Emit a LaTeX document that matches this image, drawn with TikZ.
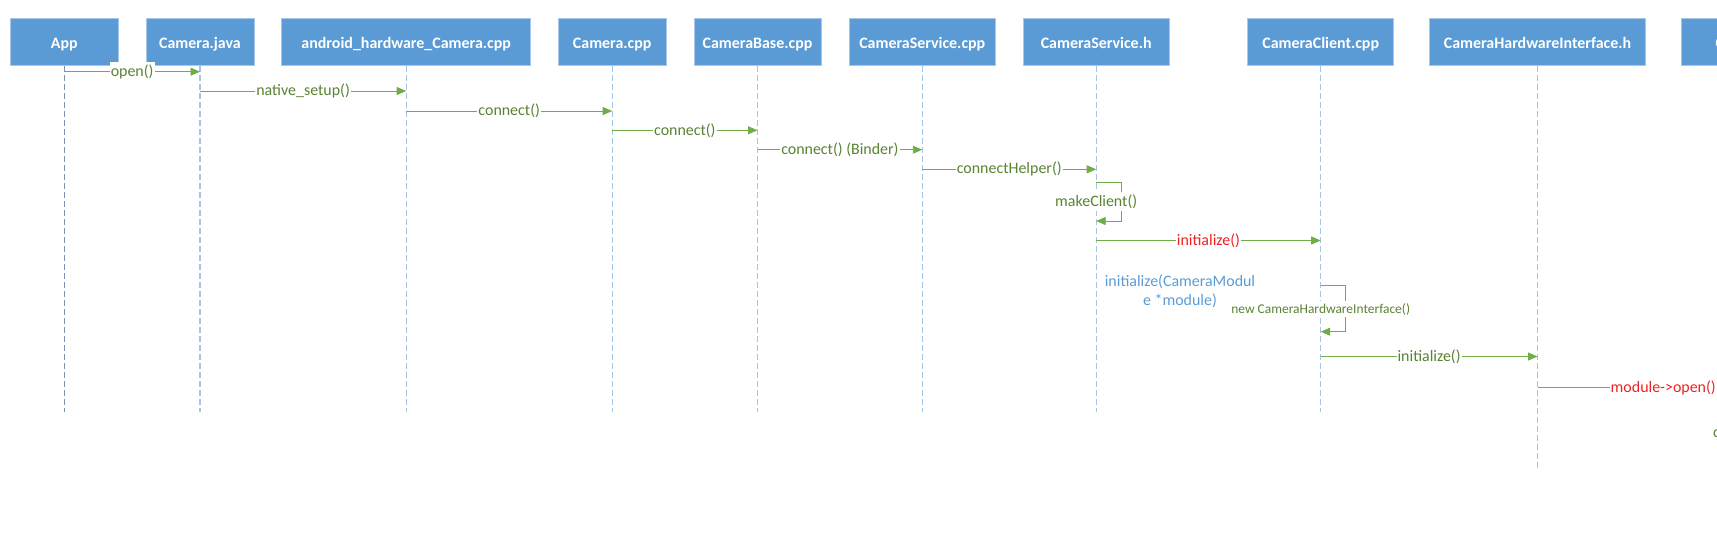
\documentclass[tikz,border=0pt]{standalone}
\usepackage{fontspec}
\setmainfont{Carlito}
\usetikzlibrary{arrows.meta}
\definecolor{boxblue}{HTML}{5B9BD5}
\definecolor{boxedge}{HTML}{A9C8EA}
\definecolor{lifeblue}{HTML}{A3C5E8}
\definecolor{lifedark}{HTML}{7892B0}
\definecolor{arrowgreen}{HTML}{70AD47}
\definecolor{textgreen}{HTML}{5A8233}
\definecolor{msgred}{HTML}{EE2222}
\definecolor{noteblue}{HTML}{5B9BD5}
\tikzset{
  objbox/.style={rectangle, fill=boxblue, draw=boxedge, line width=0.8bp,
    text=white, font=\fontsize{16}{19}\selectfont\bfseries,
    minimum height=47.4bp, inner sep=0pt, text height=12.6bp, text depth=0pt},
  lifeline/.style={draw=lifeblue, line width=1.1bp, dash pattern=on 6bp off 3bp},
  msg/.style={draw=arrowgreen, line width=0.9bp,
    -{Triangle[length=9.5bp, width=8bp, fill=arrowgreen]}},
  lbl/.style={fill=white, text=textgreen, font=\fontsize{16}{19}\selectfont,
    inner xsep=1bp, inner ysep=0pt, minimum height=19.4bp},
  redlbl/.style={lbl, text=msgred},
  smalllbl/.style={lbl, font=\fontsize{13.5}{16}\selectfont, minimum height=16bp},
  note/.style={text=noteblue, font=\fontsize{16}{19.3}\selectfont, align=center, inner sep=0pt}
}
\begin{document}
\begin{tikzpicture}[x=1bp, y=-1bp]
\useasboundingbox (0,0) rectangle (1717,538);
\clip (0,0) rectangle (1717,538);

% objects
\node[objbox, minimum width=108bp] (app) at (64.3,42) {App};
\node[objbox, minimum width=108bp] (java) at (200,42) {Camera.java};
\node[objbox, minimum width=249bp] (jni) at (406.2,42) {android\_hardware\_Camera.cpp};
\node[objbox, minimum width=107.7bp] (ccpp) at (612.2,42) {Camera.cpp};
\node[objbox, minimum width=127bp] (cbase) at (757.5,42) {CameraBase.cpp};
\node[objbox, minimum width=146bp] (cscpp) at (922.3,42) {CameraService.cpp};
\node[objbox, minimum width=146.3bp] (csh) at (1096.2,42) {CameraService.h};
\node[objbox, minimum width=146bp] (cclient) at (1320.7,42) {CameraClient.cpp};
\node[objbox, minimum width=216bp] (hwi) at (1537.5,42) {CameraHardwareInterface.h};
\node[objbox, minimum width=216bp] (last) at (1789,42) {};
\node[text=white, font=\fontsize{16}{19}\selectfont\bfseries, anchor=base west, inner sep=0pt] (lastname) at (1715.5,48.3) {C};

% lifeline ends
\coordinate (appEnd) at (64.3,411.7);
\coordinate (javaEnd) at (200,411.7);
\coordinate (jniEnd) at (406.2,411.7);
\coordinate (ccppEnd) at (612.2,411.7);
\coordinate (cbaseEnd) at (757.5,411.7);
\coordinate (cscppEnd) at (922.3,411.7);
\coordinate (cshEnd) at (1096.2,411.7);
\coordinate (cclientEnd) at (1320.7,411.7);
\coordinate (hwiEnd) at (1537.5,468);

\draw[lifeline, draw=lifedark] (app.south) -- (appEnd);
\draw[lifeline] (java.south) -- (javaEnd);
\draw[lifeline] (jni.south) -- (jniEnd);
\draw[lifeline] (ccpp.south) -- (ccppEnd);
\draw[lifeline] (cbase.south) -- (cbaseEnd);
\draw[lifeline] (cscpp.south) -- (cscppEnd);
\draw[lifeline] (csh.south) -- (cshEnd);
\draw[lifeline] (cclient.south) -- (cclientEnd);
\draw[lifeline] (hwi.south) -- (hwiEnd);

% message levels
\coordinate (y1) at (0,71.7);
\coordinate (y2) at (0,91);
\coordinate (y3) at (0,111);
\coordinate (y4) at (0,130.3);
\coordinate (y5) at (0,149.7);
\coordinate (y6) at (0,169.3);
\coordinate (y7a) at (0,182.3);
\coordinate (y7m) at (0,201.7);
\coordinate (y7b) at (0,221);
\coordinate (y8) at (0,240.5);
\coordinate (y9a) at (0,285);
\coordinate (y9m) at (0,309.3);
\coordinate (y9b) at (0,331.7);
\coordinate (y10) at (0,356.5);
\coordinate (y11) at (0,387.7);

\draw[msg] (app |- y1) -- node[lbl] {open()} (java |- y1);
\draw[msg] (java |- y2) -- node[lbl] {native\_setup()} (jni |- y2);
\draw[msg] (jni |- y3) -- node[lbl] {connect()} (ccpp |- y3);
\draw[msg] (ccpp |- y4) -- node[lbl] {connect()} (cbase |- y4);
\draw[msg] (cbase |- y5) -- node[lbl] {connect() (Binder)} (cscpp |- y5);
\draw[msg] (cscpp |- y6) -- node[lbl] {connectHelper()} (csh |- y6);

\draw[msg] (csh |- y7a) -- ++(24.8,0) |- (csh |- y7b);
\node[lbl] (mk) at (csh |- y7m) {makeClient()};

\draw[msg] (csh |- y8) -- node[redlbl] {initialize()} (cclient |- y8);

\node[note] (initnote) at (1180,291.3) {initialize(CameraModul\\e *module)};

\draw[msg] (cclient |- y9a) -- ++(24.5,0) |- (cclient |- y9b);
\node[smalllbl] (newchi) at (cclient |- y9m) {new CameraHardwareInterface()};

\draw[msg] (cclient |- y10) -- node[lbl] {initialize()} (hwi |- y10);
\draw[msg] (hwi |- y11) -- node[redlbl] {module->open()} (last |- y11);

\node[text=textgreen, font=\fontsize{16}{19}\selectfont, anchor=west, inner sep=0pt] (cfrag) at (1712.8,434) {c};
\end{tikzpicture}
\end{document}
